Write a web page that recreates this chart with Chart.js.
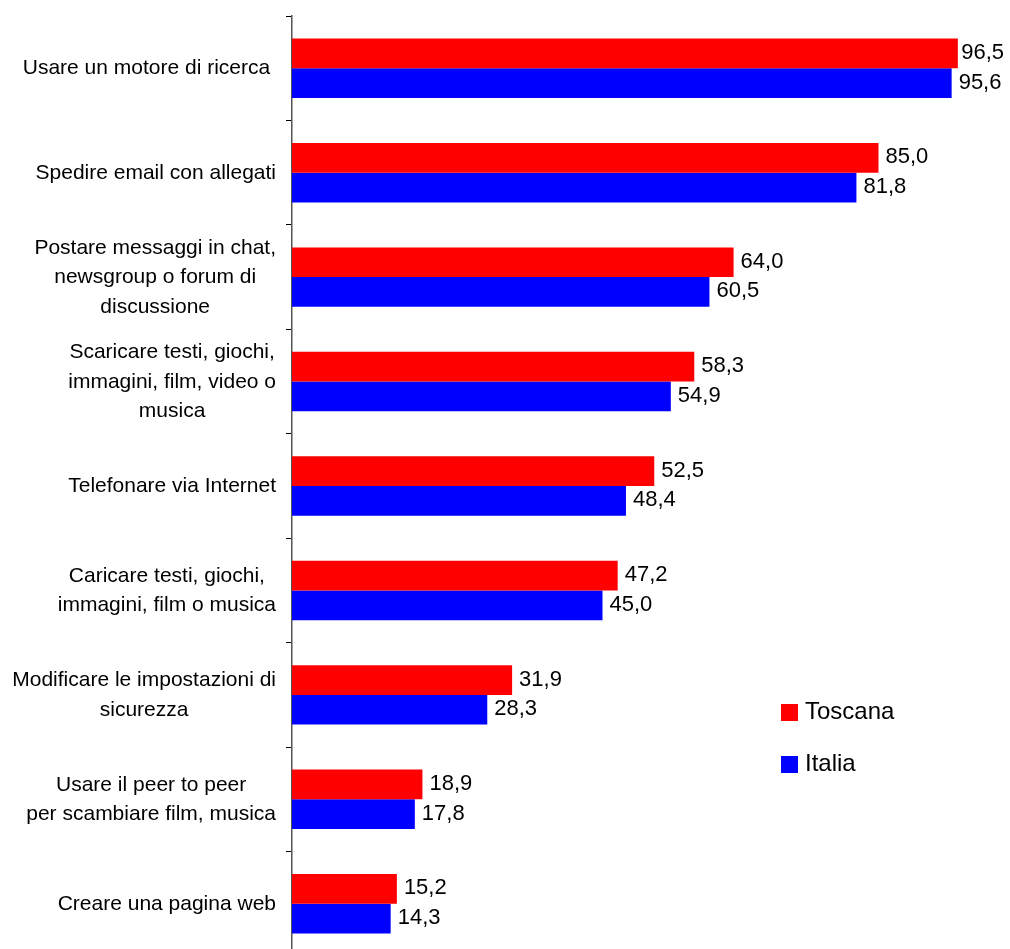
<!DOCTYPE html>
<html>
<head>
<meta charset="utf-8">
<script src="https://cdn.jsdelivr.net/npm/chart.js@4.4.1/dist/chart.umd.min.js"></script>
<style>
  html, body { margin: 0; padding: 0; background: #fff; overflow: hidden; }
  #wrap { width: 1010px; height: 956px; }
</style>
</head>
<body>
<div id="wrap"><canvas id="chart" width="1010" height="956"></canvas></div>
<script>
// categorie (righe già spezzate come nel grafico)
const categories = [
  ['Usare un motore di ricerca '],
  ['Spedire email con allegati'],
  ['Postare messaggi in chat,', 'newsgroup o forum di', 'discussione'],
  ['Scaricare testi, giochi,', 'immagini, film, video o', 'musica'],
  ['Telefonare via Internet'],
  ['Caricare testi, giochi,', 'immagini, film o musica'],
  ['Modificare le impostazioni di', 'sicurezza'],
  ['Usare il peer to peer', 'per scambiare film, musica'],
  ['Creare una pagina web']
];
const seriesNames = ['Toscana', 'Italia'];
const toscana = [96.5, 85.0, 64.0, 58.3, 52.5, 47.2, 31.9, 18.9, 15.2];
const italia = [95.6, 81.8, 60.5, 54.9, 48.4, 45.0, 28.3, 17.8, 14.3];
const colors = ['#ff0000', '#0000ff'];

const FONT = '"Liberation Sans", Arial, sans-serif';

// etichette delle categorie: blocco allineato a destra, righe centrate nel blocco
const categoryLabels = {
  id: 'categoryLabels',
  afterDraw(chart) {
    const ctx = chart.ctx;
    const y = chart.scales.y;
    const right = chart.chartArea.left - 16;
    const lineH = 29.5;
    ctx.save();
    ctx.font = '21px ' + FONT;
    ctx.fillStyle = '#000';
    ctx.textAlign = 'center';
    ctx.textBaseline = 'alphabetic';
    categories.forEach((lines, i) => {
      const cy = y.getPixelForValue(i);
      const widest = Math.max(...lines.map(l => ctx.measureText(l).width));
      const cx = right - widest / 2;
      lines.forEach((line, j) => {
        ctx.fillText(line, cx, cy + 6 + (j - (lines.length - 1) / 2) * lineH);
      });
    });
    ctx.restore();
  }
};

// valori a destra delle barre
const valueLabels = {
  id: 'valueLabels',
  afterDatasetsDraw(chart) {
    const ctx = chart.ctx;
    ctx.save();
    ctx.font = '22px ' + FONT;
    ctx.fillStyle = '#000';
    ctx.textAlign = 'left';
    ctx.textBaseline = 'alphabetic';
    chart.data.datasets.forEach((ds, di) => {
      chart.getDatasetMeta(di).data.forEach((bar, i) => {
        const txt = ds.data[i].toFixed(1).replace('.', ',');
        const w = ctx.measureText(txt).width;
        let x = bar.x + 7;
        if (x + w > 1004) x = 1004 - w;
        ctx.fillText(txt, x, bar.y + 5.5);
      });
    });
    ctx.restore();
  }
};

// legenda dentro l'area del grafico
const sideLegend = {
  id: 'sideLegend',
  afterDraw(chart) {
    const ctx = chart.ctx;
    ctx.save();
    ctx.font = '24px ' + FONT;
    ctx.textBaseline = 'alphabetic';
    chart.data.datasets.forEach((ds, i) => {
      const top = 704 + i * 52;
      ctx.fillStyle = ds.backgroundColor;
      ctx.fillRect(781, top, 17, 17);
      ctx.fillStyle = '#000';
      ctx.fillText(ds.label, 805, top + 14.5);
    });
    ctx.restore();
  }
};

new Chart(document.getElementById('chart'), {
  type: 'bar',
  data: {
    labels: categories,
    datasets: [
      { label: seriesNames[0], data: toscana, backgroundColor: colors[0], categoryPercentage: 0.569, barPercentage: 1 },
      { label: seriesNames[1], data: italia, backgroundColor: colors[1], categoryPercentage: 0.569, barPercentage: 1 }
    ]
  },
  options: {
    indexAxis: 'y',
    responsive: false,
    animation: false,
    layout: { padding: { left: 286, right: 28, top: 16, bottom: 0 } },
    plugins: {
      legend: { display: false },
      tooltip: { enabled: false }
    },
    scales: {
      x: { display: false, min: 0, max: 100 },
      y: {
        z: 1,
        grid: { drawOnChartArea: false, offset: true, tickLength: 6, color: '#000' },
        border: { display: true, color: '#555', width: 1.5 },
        ticks: { display: false }
      }
    }
  },
  plugins: [categoryLabels, valueLabels, sideLegend]
});
</script>
</body>
</html>
